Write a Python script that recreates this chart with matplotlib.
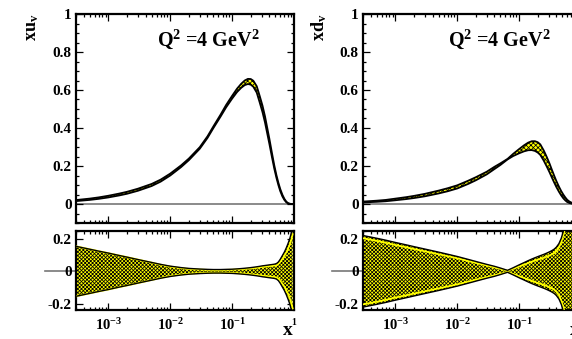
import numpy as np
import matplotlib
matplotlib.use("Agg")
import matplotlib.pyplot as plt
from matplotlib.ticker import FixedLocator, MultipleLocator, LogLocator, NullFormatter

plt.rcParams["font.family"] = ["Liberation Serif", "DejaVu Serif"]
plt.rcParams["font.weight"] = "bold"
plt.rcParams["mathtext.fontset"] = "custom"
plt.rcParams["mathtext.rm"] = "Liberation Serif:bold"
plt.rcParams["mathtext.bf"] = "Liberation Serif:bold"
plt.rcParams["mathtext.it"] = "Liberation Serif:bold"
plt.rcParams["hatch.linewidth"] = 0.55

# Bjorken-x grid
x = [3e-4, 5e-4, 7e-4, 1e-3, 1.5e-3, 2e-3, 3e-3, 5e-3, 7e-3, 1e-2, 1.5e-2,
     2e-2, 3e-2, 4e-2, 5e-2, 6.5e-2, 8e-2, 0.1, 0.12, 0.14, 0.16, 0.18, 0.2,
     0.22, 0.25, 0.28, 0.31, 0.34, 0.37, 0.4, 0.44, 0.48, 0.52, 0.56, 0.6,
     0.65, 0.7, 0.75, 0.8, 0.85, 0.9, 0.95]

# central valence distributions at Q^2 = 4 GeV^2
xuv = [0.018, 0.025, 0.031, 0.039, 0.050, 0.059, 0.075, 0.100, 0.123, 0.155,
       0.199, 0.235, 0.295, 0.352, 0.405, 0.465, 0.515, 0.562, 0.598, 0.622,
       0.638, 0.645, 0.643, 0.633, 0.603, 0.550, 0.500, 0.445, 0.385, 0.330,
       0.258, 0.195, 0.145, 0.105, 0.073, 0.044, 0.024, 0.011, 0.004, 0.0012,
       0.0003, 0.00005]
xdv = [0.0105, 0.0145, 0.018, 0.024, 0.031, 0.037, 0.047, 0.063, 0.075, 0.090,
       0.114, 0.133, 0.163, 0.190, 0.210, 0.236, 0.258, 0.278, 0.293, 0.303,
       0.307, 0.305, 0.298, 0.286, 0.255, 0.222, 0.190, 0.158, 0.130, 0.105,
       0.078, 0.056, 0.039, 0.026, 0.016, 0.009, 0.005, 0.0022, 0.0008, 0.0003,
       0.0001, 0.00002]

# relative uncertainties: total (outer band) and experimental (inner band)
uv_tot = [0.155, 0.137, 0.125, 0.113, 0.098, 0.088, 0.073, 0.055, 0.043, 0.032,
          0.023, 0.018, 0.014, 0.012, 0.011, 0.011, 0.012, 0.013, 0.015, 0.017,
          0.019, 0.021, 0.023, 0.025, 0.028, 0.031, 0.034, 0.036, 0.038, 0.040,
          0.042, 0.044, 0.048, 0.058, 0.075, 0.098, 0.120, 0.145, 0.172, 0.200,
          0.235, 0.275]
uv_exp = [0.155, 0.137, 0.125, 0.113, 0.098, 0.088, 0.073, 0.054, 0.041, 0.029,
          0.020, 0.015, 0.011, 0.009, 0.008, 0.008, 0.009, 0.010, 0.012, 0.013,
          0.015, 0.017, 0.018, 0.020, 0.022, 0.025, 0.027, 0.029, 0.031, 0.032,
          0.034, 0.035, 0.038, 0.046, 0.060, 0.078, 0.096, 0.118, 0.140, 0.165,
          0.195, 0.230]
dv_tot = [0.222, 0.205, 0.193, 0.179, 0.164, 0.153, 0.138, 0.119, 0.106, 0.092,
          0.074, 0.061, 0.043, 0.031, 0.020, 0.006, 0.022, 0.040, 0.054, 0.066,
          0.076, 0.084, 0.091, 0.097, 0.105, 0.113, 0.121, 0.129, 0.138, 0.150,
          0.172, 0.205, 0.250, 0.300, 0.360, 0.430, 0.500, 0.570, 0.640, 0.710,
          0.780, 0.850]
dv_exp = [0.205, 0.189, 0.177, 0.163, 0.149, 0.138, 0.124, 0.106, 0.094, 0.081,
          0.064, 0.052, 0.036, 0.025, 0.015, 0.004, 0.016, 0.030, 0.041, 0.051,
          0.059, 0.066, 0.072, 0.077, 0.084, 0.091, 0.098, 0.106, 0.114, 0.126,
          0.148, 0.181, 0.226, 0.276, 0.336, 0.406, 0.476, 0.546, 0.616, 0.686,
          0.756, 0.826]

ylabels = [r"$\mathbf{xu_v}$", r"$\mathbf{xd_v}$"]
scale_text = r"$\mathbf{Q^2}$ =4 GeV$\mathbf{^2}$"
xtick_vals = [1e-3, 1e-2, 1e-1]
xtick_labels = [r"$\mathbf{10^{-3}}$", r"$\mathbf{10^{-2}}$", r"$\mathbf{10^{-1}}$"]

BAND_HATCH = "x" * 9

W, H = 572, 339
fig = plt.figure(figsize=(W / 100, H / 100), dpi=100)

def px_axes(x0, y0, x1, y1):
    return fig.add_axes([x0 / W, 1 - y1 / H, (x1 - x0) / W, (y1 - y0) / H])

def style(ax):
    ax.set_xscale("log")
    ax.set_xlim(3e-4, 1.0)
    for s in ax.spines.values():
        s.set_linewidth(1.6)
    ax.xaxis.set_major_locator(FixedLocator(xtick_vals))
    ax.xaxis.set_minor_locator(LogLocator(base=10, subs=np.arange(2, 10)))
    ax.xaxis.set_minor_formatter(NullFormatter())
    ax.tick_params(which="both", direction="in", top=True, right=True,
                   width=0.9, labelsize=11, pad=3)
    ax.tick_params(which="major", length=5)
    ax.tick_params(which="minor", length=2.5)

xa = np.array(x)
panels = [(76, xuv, uv_tot, uv_exp, ylabels[0], 0.37),
          (363, xdv, dv_tot, dv_exp, ylabels[1], 0.39)]

for x0, cen, tot, exp_, ylab, tx in panels:
    cen = np.array(cen)
    tot = np.array(tot)
    exp_ = np.array(exp_)

    # upper: distribution with total uncertainty band
    ax = px_axes(x0, 14, x0 + 218, 223)
    style(ax)
    ax.set_ylim(-0.1, 1.0)
    ax.yaxis.set_major_locator(FixedLocator([0, 0.2, 0.4, 0.6, 0.8, 1.0]))
    ax.yaxis.set_minor_locator(MultipleLocator(0.05))
    ax.set_yticklabels(["0", "0.2", "0.4", "0.6", "0.8", "1"])
    ax.set_xticklabels([])
    ax.axhline(0, color="#777777", lw=1.2, zorder=1)
    lo, hi = cen * (1 - tot), cen * (1 + tot)
    ax.fill_between(xa, lo, hi, facecolor="#ffff00", edgecolor="black",
                    hatch="x" * 7, linewidth=0, zorder=2)
    ax.plot(xa, lo, color="black", lw=1.3, zorder=3)
    ax.plot(xa, hi, color="black", lw=1.3, zorder=3)
    ax.text(tx, 0.85, scale_text, transform=ax.transAxes, fontsize=14.5,
            fontweight="bold", va="baseline", ha="left")
    ax.text(-0.2, 1.0, ylab, transform=ax.transAxes, rotation=90,
            fontsize=13, ha="center", va="top")

    # lower: relative uncertainty
    axr = px_axes(x0, 231, x0 + 218, 310)
    style(axr)
    axr.set_ylim(-0.24, 0.25)
    axr.yaxis.set_major_locator(FixedLocator([-0.2, 0, 0.2]))
    axr.yaxis.set_minor_locator(MultipleLocator(0.05))
    axr.set_yticklabels(["-0.2", "0", "0.2"])
    axr.set_xticklabels(xtick_labels)
    axr.tick_params(axis="x", labelsize=10.5, pad=5)
    axr.plot([-0.14, 1.0], [0, 0], transform=axr.get_yaxis_transform(),
             color="#777777", lw=1.2, zorder=1, clip_on=False)
    axr.fill_between(xa, -tot, tot, facecolor="#ffff00", edgecolor="black",
                     hatch=BAND_HATCH, linewidth=0, zorder=2)
    axr.plot(xa, exp_, color="#ffff00", lw=1.3, zorder=3)
    axr.plot(xa, -exp_, color="#ffff00", lw=1.3, zorder=3)
    axr.plot(xa, tot, color="black", lw=1.0, zorder=4)
    axr.plot(xa, -tot, color="black", lw=1.0, zorder=4)
    axr.text(1.0, -0.1, "1", transform=axr.transAxes, fontsize=7,
             ha="center", va="top")
    axr.text(0.972, -0.15, "x", transform=axr.transAxes, fontsize=14,
             ha="center", va="top")

fig.savefig("out.png", dpi=100)
